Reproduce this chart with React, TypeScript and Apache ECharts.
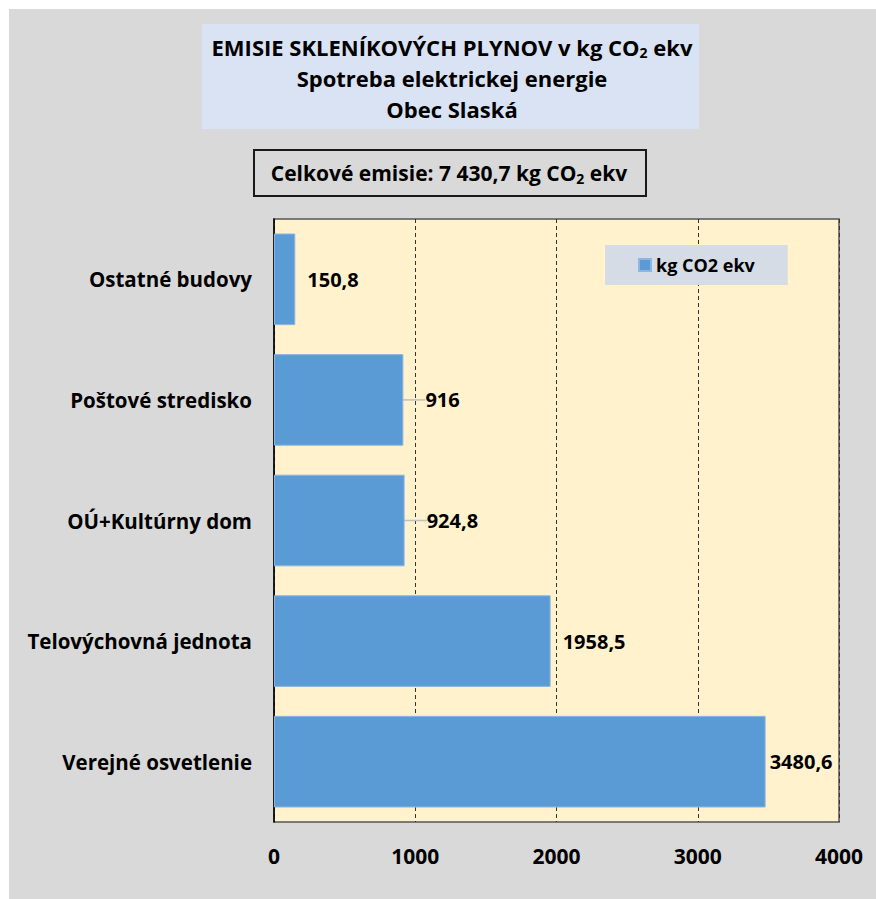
import React, { useEffect, useRef } from "react";
import * as echarts from "echarts";

const categories = [
  "Verejné osvetlenie",
  "Telovýchovná jednota",
  "OÚ+Kultúrny dom",
  "Poštové stredisko",
  "Ostatné budovy",
];
const values = [3480.6, 1958.5, 924.8, 916, 150.8];
const seriesName = "kg CO2 ekv";
const xTicks = [0, 1000, 2000, 3000, 4000];
const titleLines = ["Spotreba elektrickej energie", "Obec Slaská"];
const totalText = "Celkové emisie: 7 430,7 kg CO";

const FONT = "Open Sans";
const labelDistances = [4, 12, 8, 8, 12];
const labelShift = [0, 0, 14, 14, 0];

export default function App() {
  const ref = useRef<HTMLDivElement>(null);
  useEffect(() => {
    if (!ref.current) return;
    const chart = echarts.init(ref.current, undefined, { renderer: "svg" });
    const subRich = {
      a: { fontSize: 22, fontWeight: "bold", fontFamily: FONT, color: "#000" },
      s: { fontSize: 14, fontWeight: "bold", fontFamily: FONT, color: "#000", padding: [11, 0, 0, 0] },
    };
    chart.setOption({
      animation: false,
      backgroundColor: "#ffffff",
      graphic: [
        { type: "rect", z: -10, shape: { x: 9, y: 9, width: 867, height: 890 }, style: { fill: "#d9d9d9" } },
        { type: "rect", z: -5, shape: { x: 202, y: 24, width: 497, height: 105 }, style: { fill: "#dae3f3" } },
        {
          type: "text",
          x: 452,
          y: 47,
          style: {
            text: "{a|EMISIE SKLENÍKOVÝCH PLYNOV v kg CO}{s|2}{a| ekv}",
            rich: subRich,
            align: "center",
            verticalAlign: "middle",
          },
        },
        ...titleLines.map((t, i) => ({
          type: "text",
          x: 452,
          y: 78 + i * 31,
          style: {
            text: t,
            fontSize: 22,
            fontWeight: "bold",
            fontFamily: FONT,
            fill: "#000",
            align: "center",
            verticalAlign: "middle",
          },
        })),
        {
          type: "rect",
          shape: { x: 254, y: 150, width: 392, height: 46 },
          style: { fill: "#d9d9d9", stroke: "#1a1a1a", lineWidth: 2 },
        },
        {
          type: "text",
          x: 449,
          y: 173,
          style: {
            text: "{a|" + totalText + "}{s|2}{a| ekv}",
            rich: {
              a: { fontSize: 21, fontWeight: "bold", fontFamily: FONT, color: "#000" },
              s: { fontSize: 14, fontWeight: "bold", fontFamily: FONT, color: "#000", padding: [10, 0, 0, 0] },
            },
            align: "center",
            verticalAlign: "middle",
          },
        },
      ],
      legend: {
        show: true,
        left: 605,
        top: 245,
        data: [seriesName],
        icon: "rect",
        itemWidth: 12,
        itemHeight: 12,
        itemGap: 6,
        padding: [11, 33, 11, 33],
        backgroundColor: "#d6dce5",
        textStyle: { fontSize: 18, fontWeight: "bold", fontFamily: FONT, color: "#000" },
      },
      grid: {
        left: 274,
        top: 219,
        width: 565,
        height: 603,
        show: true,
        backgroundColor: "#fff2cc",
        borderColor: "#555555",
        borderWidth: 1.5,
        containLabel: false,
      },
      xAxis: {
        type: "value",
        min: 0,
        max: 4000,
        interval: 1000,
        axisLine: { show: false },
        axisTick: { show: false },
        splitLine: { show: true, lineStyle: { color: "#333", type: [4, 3], width: 1 } },
        axisLabel: {
          fontSize: 21,
          fontWeight: "bold",
          fontFamily: FONT,
          color: "#000",
          margin: 23,
          formatter: (v: number) => (xTicks.includes(v) ? String(v) : ""),
        },
      },
      yAxis: {
        type: "category",
        data: categories,
        axisLine: { show: true, lineStyle: { color: "#000", width: 1.5 } },
        axisTick: { show: false },
        splitLine: { show: false },
        axisLabel: {
          fontSize: 20.5,
          fontWeight: "bold",
          fontFamily: FONT,
          color: "#000",
          margin: 22,
        },
      },
      series: [
        {
          name: seriesName,
          type: "bar",
          data: values.map((v, i) => ({
            value: v,
            label: { distance: labelDistances[i] },
            labelLine: { show: labelShift[i] > 0 },
          })),
          barCategoryGap: "24%",
          itemStyle: { color: "#5b9bd5", borderColor: "#8db6e2", borderWidth: 1 },
          label: {
            show: true,
            position: "right",
            fontSize: 20,
            fontWeight: "bold",
            fontFamily: FONT,
            color: "#000",
            formatter: (p: any) => String(p.value).replace(".", ","),
          },
          labelLine: { lineStyle: { color: "#bfbfbf", width: 1.5 } },
          labelLayout: (p: any) => (labelShift[p.dataIndex] > 0 ? { dx: labelShift[p.dataIndex] } : {}),
        },
      ],
    });
    return () => chart.dispose();
  }, []);
  return (
    <div
      ref={ref}
      style={{ position: "absolute", left: 0, top: 0, width: 876, height: 899 }}
    />
  );
}
